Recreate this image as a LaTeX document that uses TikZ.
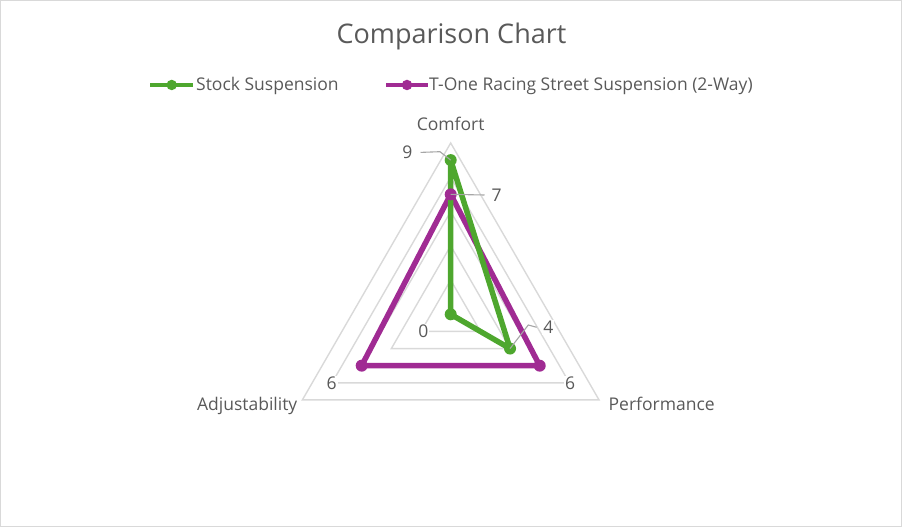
\documentclass[tikz,border=0pt]{standalone}
\usepackage{fontspec}
\setmainfont{Open Sans}
\usepackage{tikz}
\definecolor{stockgreen}{HTML}{4EA72E}
\definecolor{tonepurple}{HTML}{A02B93}
\definecolor{gridgray}{HTML}{D9D9D9}
\definecolor{leadgray}{HTML}{A6A6A6}
\definecolor{txtgray}{HTML}{595959}

\begin{document}
\begin{tikzpicture}[x=1pt,y=1pt,
	grid line/.style={draw=gridgray,line width=1.4pt},
	stock line/.style={draw=stockgreen,line width=5.5pt,line join=round},
	tone line/.style={draw=tonepurple,line width=5.5pt,line join=round},
	stock dot/.style={circle,fill=stockgreen,inner sep=0pt,minimum size=12pt},
	tone dot/.style={circle,fill=tonepurple,inner sep=0pt,minimum size=12pt},
	leader/.style={draw=leadgray,line width=1.1pt},
	val/.style={fill=white,inner sep=1pt}]
	\tikzstyle{every node}=[font=\fontsize{17.5}{20}\selectfont,text=txtgray,inner sep=0pt]
	\useasboundingbox (0,0) rectangle (902,527);
	\draw[gridgray,line width=1pt] (0.5,0.5) rectangle (901.5,526.5);
	% title and legend
	\node[anchor=base,font=\fontsize{27}{31}\selectfont] (title) at (451.5,483.7) {Comparison Chart};
	\node[anchor=base west] (lgstock) at (196,436.3) {Stock Suspension};
	\node[anchor=base west] (lgtone) at (429,436.3) {T-One Racing Street Suspension (2-Way)};
	\coordinate (ms) at (171.7,442);
	\coordinate (mt) at (407,442);
	\draw[stock line,line width=4.5pt] ([xshift=-21.7pt]ms) -- ([xshift=21.5pt]ms);
	\draw[tone line,line width=4.5pt] ([xshift=-21pt]mt) -- ([xshift=21pt]mt);
	\node[stock dot,minimum size=10.5pt] (lgs) at (ms) {};
	\node[tone dot,minimum size=10.5pt] (lgt) at (mt) {};
	% radar grid
	\coordinate (c) at (450.7,212.7);
	\foreach \r in {2,4,6,8,10}
		\draw[grid line] ([shift={(90:\r*17.13)}]c) -- ([shift={(210:\r*17.13)}]c) -- ([shift={(330:\r*17.13)}]c) -- cycle;
	% data points
	\coordinate (s1) at ([shift={(90:9*17.13)}]c);
	\coordinate (s2) at ([shift={(330:4*17.13)}]c);
	\coordinate (s3) at (c);
	\coordinate (t1) at ([shift={(90:7*17.13)}]c);
	\coordinate (t2) at ([shift={(330:6*17.13)}]c);
	\coordinate (t3) at ([shift={(210:6*17.13)}]c);
	\draw[tone line] (t1) -- (t2) -- (t3) -- cycle;
	\draw[stock line] (s1) -- (s2) -- (s3) -- cycle;
	\foreach \p in {s1,s2,s3}
		\node[stock dot] at (\p) {};
	\foreach \p in {t1,t2,t3}
		\node[tone dot] at (\p) {};
	% axis labels
	\node[anchor=base] (comfort) at (450.7,396.3) {Comfort};
	\node[anchor=base east] (adjust) at (297.5,116.8) {Adjustability};
	\node[anchor=base west] (perf) at (608.5,116.8) {Performance};
	% data labels
	\node[val] (l9) at (407.3,374.6) {9};
	\node[val] (l7) at (496.7,332) {7};
	\node[val] (l4) at (548.3,199.7) {4};
	\node[val] (l0) at (423.3,195.3) {0};
	\node[val] (l6a) at (331.7,143.7) {6};
	\node[val] (l6p) at (570,143.7) {6};
	\coordinate (k9) at (440,375.3);
	\coordinate (k4) at (528.3,202);
	\draw[leader] ([xshift=7pt]l9.east) -- (k9) -- (s1);
	\draw[leader] (t1) -- ([xshift=-6pt]l7.west);
	\draw[leader] ([xshift=-5.5pt]l4.west) -- (k4) -- (s2);
\end{tikzpicture}
\end{document}
